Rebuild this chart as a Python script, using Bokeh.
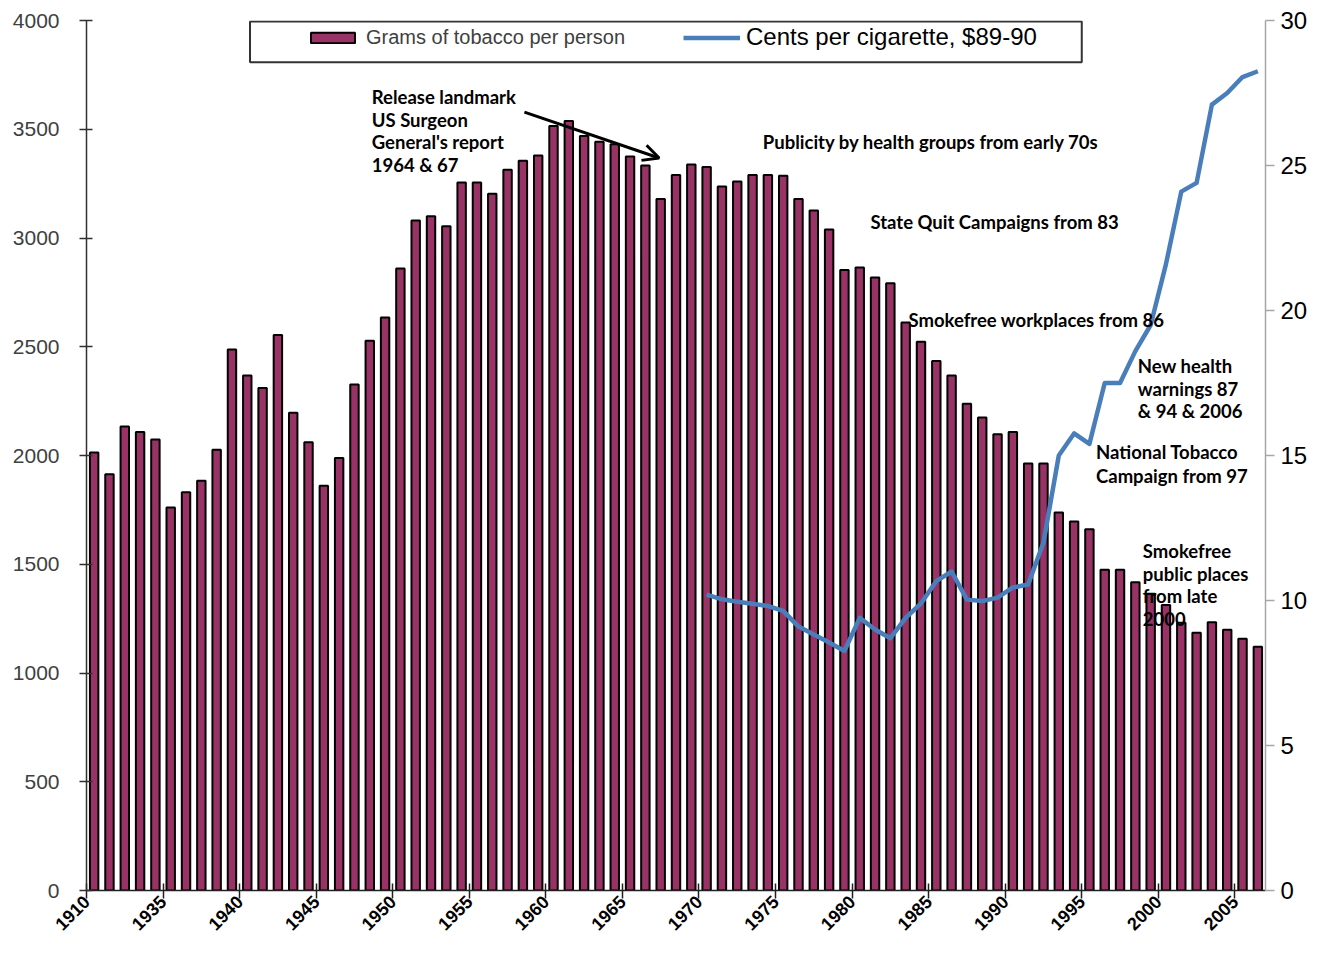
import math
from bokeh.plotting import figure
from bokeh.models import (Range1d, LinearAxis, FixedTicker, Legend, LegendItem, Label,
                          Arrow, OpenHead, BoxAnnotation, ColumnDataSource)
from bokeh.embed import file_html
from bokeh.resources import INLINE

# ---------------- data ----------------
years = list(range(1930, 2007))
grams = [2014, 1914, 2133, 2108, 2073, 1761, 1831, 1884, 2026, 2487,
         2368, 2310, 2554, 2197, 2061, 1861, 1989, 2326, 2528, 2635,
         2860, 3080, 3100, 3054, 3255, 3255, 3204, 3314, 3355, 3379,
         3515, 3538, 3469, 3443, 3431, 3375, 3333, 3179, 3290, 3338,
         3327, 3237, 3260, 3290, 3290, 3286, 3179, 3126, 3039, 2853,
         2864, 2818, 2792, 2612, 2523, 2435, 2368, 2238, 2175, 2098,
         2108, 1963, 1963, 1738, 1697, 1661, 1475, 1475, 1417, 1364,
         1313, 1231, 1185, 1233, 1199, 1157, 1121]

cent_years = list(range(1970, 2007))
cents = [10.2, 10.04, 9.96, 9.89, 9.81, 9.64, 9.1, 8.83, 8.55, 8.26,
         9.4, 9.0, 8.7, 9.4, 9.9, 10.67, 11.0, 10.03, 9.98, 10.1,
         10.45, 10.55, 12.0, 15.0, 15.76, 15.4, 17.5, 17.5, 18.6, 19.5,
         21.6, 24.1, 24.4, 27.1, 27.5, 28.05, 28.25]

tick_labels = ["1910", "1935", "1940", "1945", "1950", "1955", "1960", "1965",
               "1970", "1975", "1980", "1985", "1990", "1995", "2000", "2005"]

bar_label = "Grams of tobacco per person"
line_label = "Cents per cigarette, $89-90"

# ---------------- figure ----------------
n = len(years)
p = figure(width=1310, height=939, x_range=Range1d(0, n), y_range=Range1d(0, 4000),
           output_backend="svg", toolbar_location=None,
           min_border_left=86, min_border_right=42, min_border_top=20, min_border_bottom=45)
p.outline_line_color = None
p.xgrid.visible = False
p.ygrid.visible = False
p.background_fill_color = "white"
p.border_fill_color = "white"

p.extra_y_ranges = {"cents": Range1d(0, 30)}

FONT = "Liberation Sans"

# x axis
xa = p.xaxis[0]
xa.ticker = FixedTicker(ticks=[5 * i for i in range(len(tick_labels))])
xa.major_label_overrides = {5 * i: t for i, t in enumerate(tick_labels)}
xa.major_label_orientation = math.pi / 4
xa.major_label_text_font = FONT
xa.major_label_text_font_size = "18px"
xa.major_label_text_font_style = "bold"
xa.major_label_text_color = "black"
xa.major_label_standoff = 0
xa.axis_line_color = "#202020"
xa.axis_line_width = 1.5
xa.major_tick_line_color = "#202020"
xa.major_tick_line_width = 1.5
xa.major_tick_in = 7
xa.major_tick_out = 8
xa.minor_tick_line_color = None

# left y axis
ya = p.yaxis[0]
ya.ticker = FixedTicker(ticks=list(range(0, 4001, 500)))
ya.major_label_text_font = FONT
ya.major_label_text_font_size = "21px"
ya.major_label_text_color = "#404040"
ya.major_label_standoff = 20
ya.axis_line_color = "#303030"
ya.axis_line_width = 1.5
ya.major_tick_line_color = "#303030"
ya.major_tick_line_width = 1.5
ya.major_tick_in = 6
ya.major_tick_out = 7
ya.minor_tick_line_color = None

# right y axis
ra = LinearAxis(y_range_name="cents", ticker=FixedTicker(ticks=list(range(0, 31, 5))))
ra.major_label_text_font = FONT
ra.major_label_text_font_size = "24px"
ra.major_label_text_color = "black"
ra.major_label_standoff = 6
ra.axis_line_color = "#a6a6a6"
ra.axis_line_width = 1.5
ra.major_tick_line_color = "#a6a6a6"
ra.major_tick_line_width = 1.5
ra.major_tick_in = 0
ra.major_tick_out = 9
ra.minor_tick_line_color = None
p.add_layout(ra, "right")

# ---------------- glyphs ----------------
bar_src = ColumnDataSource(dict(x=[y - years[0] + 0.5 for y in years], top=grams))
bars = p.vbar(x="x", top="top", width=0.55, bottom=0, source=bar_src,
              fill_color="#993366", line_color="black", line_width=2)

line_src = ColumnDataSource(dict(x=[y - years[0] + 0.5 for y in cent_years], y=cents))
cline = p.line(x="x", y="y", source=line_src, y_range_name="cents",
               line_color="#4A7EBB", line_width=4.5, line_join="round")

# ---------------- legend ----------------
box = BoxAnnotation(left=10.68, right=65.0, top=3995, bottom=3808,
                    fill_color="white", fill_alpha=1.0,
                    line_color="#333333", line_alpha=1.0, line_width=2)
p.add_layout(box)

leg1 = Legend(items=[LegendItem(label=bar_label, renderers=[bars])],
              location=(219, 841), orientation="horizontal",
              padding=0, margin=0, border_line_color=None, background_fill_alpha=0,
              glyph_width=55, glyph_height=13, label_standoff=6,
              label_text_font=FONT, label_text_font_size="20px",
              label_text_color="#404040")
leg2 = Legend(items=[LegendItem(label=line_label, renderers=[cline])],
              location=(597, 839), orientation="horizontal",
              padding=0, margin=0, border_line_color=None, background_fill_alpha=0,
              glyph_width=57, glyph_height=13, label_standoff=6,
              label_text_font=FONT, label_text_font_size="24px",
              label_text_color="black")
p.add_layout(leg1)
p.add_layout(leg2)

# ---------------- annotations ----------------
AFONT = "Lato"
ann = [
    ("Release landmark", 18.63, 3648),
    ("US Surgeon", 18.63, 3542),
    ("General's report", 18.63, 3442),
    ("1964 & 67", 18.63, 3336),
    ("Publicity by health groups from early 70s", 44.17, 3442),
    ("State Quit Campaigns from 83", 51.2, 3075),
    ("Smokefree workplaces from 86", 53.68, 2622),
    ("New health", 68.66, 2412),
    ("warnings 87", 68.66, 2307),
    ("& 94 & 2006", 68.66, 2206),
    ("National Tobacco", 65.93, 2018),
    ("Campaign from 97", 65.93, 1908),
    ("Smokefree", 68.99, 1561),
    ("public places", 68.99, 1455),
    ("from late", 68.99, 1355),
    ("2000", 68.99, 1249),
]
for t, x, y in ann:
    p.add_layout(Label(x=x, y=y, text=t, text_font=AFONT, text_font_style="bold",
                       text_font_size="18.5px", text_color="black",
                       text_align="left", text_baseline="middle"))

p.add_layout(Arrow(x_start=28.6, y_start=3579, x_end=37.4, y_end=3368,
                   line_color="black", line_width=3,
                   end=OpenHead(size=16, line_color="black", line_width=3)))

open("out.html", "w").write(file_html(p, INLINE))
